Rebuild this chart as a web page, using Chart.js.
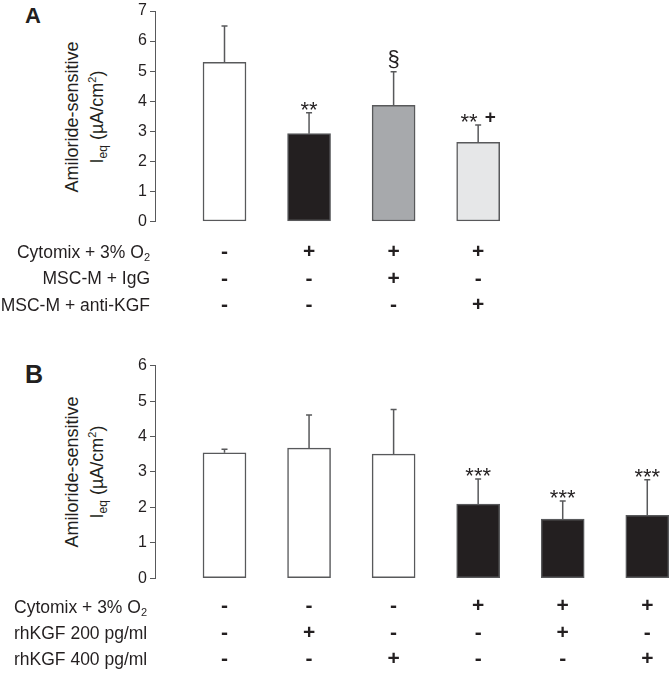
<!DOCTYPE html>
<html>
<head>
<meta charset="utf-8">
<script src="https://cdn.jsdelivr.net/npm/chart.js@4"></script>
<style>
    body { margin: 0; background: #fff; overflow: hidden; }
    #page { position: relative; width: 669px; height: 673px; overflow: hidden; font-family: "Liberation Sans", Arial, sans-serif; color: #231f20; }
    canvas { position: absolute; left: 0; }
    .lbl { position: absolute; font-size: 17.5px; line-height: 20px; white-space: nowrap; }
    .lbl sub { font-size: 11px; vertical-align: -3px; line-height: 0; }
    .ytitle { position: absolute; width: 240px; height: 50px; text-align: center; font-size: 18px; line-height: 25px; transform: rotate(-90deg); white-space: nowrap; }
    .ytitle sub { font-size: 12px; vertical-align: -4px; line-height: 0; }
    .ytitle sup { font-size: 11px; vertical-align: 7px; line-height: 0; }
    .panel { position: absolute; font-weight: bold; }
</style>
</head>
<body>
<div id="page">
    <div class="panel" style="left:25px; top:3px; font-size:22px;">A</div>
    <div class="ytitle" style="left:-35.5px; top:92px;">Amiloride-sensitive<br>I<sub>eq</sub> (µA/cm<sup>2</sup>)</div>
    <canvas id="chartA" width="669" height="336" style="top:0px;"></canvas>
    <div id="rowsA"></div>

    <div class="panel" style="left:25px; top:360px; font-size:25px;">B</div>
    <div class="ytitle" style="left:-35.5px; top:447px;">Amiloride-sensitive<br>I<sub>eq</sub> (µA/cm<sup>2</sup>)</div>
    <canvas id="chartB" width="669" height="348" style="top:340px;"></canvas>
    <div id="rowsB"></div>
</div>
<script>
// panel A
const rowLabelsA = ["Cytomix + 3% O<sub>2</sub>", "MSC-M + IgG", "MSC-M + anti-KGF"];
const meanA = [5.29, 2.92, 3.86, 2.63];
const errA = [1.21, 0.70, 1.12, 0.58];
const cytomixA = ["-", "+", "+", "+"];
const iggA = ["-", "-", "+", "-"];
const antiKgfA = ["-", "-", "-", "+"];
const marksA = ["", "**", "§", "** +"];
const fillA = ["#ffffff", "#231f20", "#a7a9ac", "#e6e7e8"];

// panel B
const rowLabelsB = ["Cytomix + 3% O<sub>2</sub>", "rhKGF 200 pg/ml", "rhKGF 400 pg/ml"];
const meanB = [3.54, 3.67, 3.50, 2.09, 1.67, 1.77];
const errB = [0.10, 0.94, 1.26, 0.71, 0.51, 1.01];
const cytomixB = ["-", "-", "-", "+", "+", "+"];
const kgf200B = ["-", "+", "-", "-", "+", "-"];
const kgf400B = ["-", "-", "+", "-", "-", "+"];
const marksB = ["", "", "", "***", "***", "***"];
const fillB = ["#ffffff", "#ffffff", "#ffffff", "#231f20", "#231f20", "#231f20"];

const fontFamily = "'Liberation Sans', Arial, sans-serif";
const ink = "#231f20";
const edge = "#58595b";

function markFont(t) {
    if (t[0] === "*") return "22px " + fontFamily;
    if (t === "§") return "22px " + fontFamily;
    return "bold 19px " + fontFamily;
}

const errorBars = {
    id: "errorBars",
    afterDatasetsDraw(chart, args, opts) {
        const ctx = chart.ctx;
        const yScale = chart.scales.y;
        const bars = chart.getDatasetMeta(0).data;
        const data = chart.data.datasets[0].data;
        ctx.save();
        bars.forEach((bar, i) => {
            const top = yScale.getPixelForValue(data[i].y + opts.err[i]);
            ctx.strokeStyle = edge;
            ctx.lineWidth = 1.5;
            ctx.beginPath();
            ctx.moveTo(bar.x, bar.y);
            ctx.lineTo(bar.x, top);
            ctx.moveTo(bar.x - 3, top);
            ctx.lineTo(bar.x + 3, top);
            ctx.stroke();

            const tokens = opts.marks[i].split(" ").filter(Boolean);
            if (!tokens.length) return;
            const gap = 7;
            const widths = tokens.map(t => {
                ctx.font = markFont(t);
                return ctx.measureText(t).width;
            });
            const total = widths.reduce((a, b) => a + b, 0) + gap * (tokens.length - 1);
            let x = bar.x - total / 2;
            ctx.fillStyle = ink;
            ctx.textAlign = "left";
            ctx.textBaseline = "alphabetic";
            tokens.forEach((t, k) => {
                ctx.font = markFont(t);
                const m = ctx.measureText(t);
                ctx.fillText(t, x, top - 3 - m.actualBoundingBoxDescent);
                x += widths[k] + gap;
            });
        });
        ctx.restore();
    }
};

function makeChart(id, mean, err, marks, fills, rows, yMax, padTop, tickPad) {
    return new Chart(document.getElementById(id), {
        type: "bar",
        data: {
            datasets: [{
                data: mean.map((v, i) => ({ x: i + 1, y: v })),
                backgroundColor: fills,
                borderColor: edge,
                borderWidth: 1.5,
                borderSkipped: false,
                barThickness: 43,
            }],
        },
        options: {
            responsive: false,
            animation: false,
            events: [],
            layout: { padding: { top: padTop, left: 0, right: 0, bottom: 0 } },
            plugins: {
                legend: { display: false },
                tooltip: { enabled: false },
                errorBars: { err: err, marks: marks },
            },
            scales: {
                x: {
                    type: "linear",
                    min: 0.178,
                    max: 6.257,
                    offset: false,
                    grid: { display: false, drawTicks: false, offset: false },
                    border: { display: false },
                    afterBuildTicks: (scale) => {
                        scale.ticks = mean.map((v, i) => ({ value: i + 1 }));
                    },
                    ticks: {
                        autoSkip: false,
                        maxRotation: 0,
                        padding: tickPad,
                        color: ink,
                        font: { family: fontFamily, size: 21, weight: "bold", lineHeight: "26.5px" },
                        callback: (v) => {
                            const i = Math.round(v) - 1;
                            return rows.map(r => r[i]);
                        },
                    },
                },
                y: {
                    min: 0,
                    max: yMax,
                    afterFit: (scale) => { scale.width = 155; },
                    grid: { drawOnChartArea: false, tickLength: 5, color: edge, lineWidth: 1 },
                    border: { color: edge, width: 1 },
                    ticks: {
                        stepSize: 1,
                        padding: 3,
                        color: ink,
                        font: { family: fontFamily, size: 16, lineHeight: 1 },
                    },
                },
            },
        },
        plugins: [errorBars],
    });
}

function placeRows(el, labels, ys, align) {
    labels.forEach((t, i) => {
        const d = document.createElement("div");
        d.className = "lbl";
        d.innerHTML = t;
        d.style.top = (ys[i] - 10) + "px";
        if (align === "right") d.style.right = (669 - 150) + "px";
        else d.style.left = "14px";
        document.getElementById(el).appendChild(d);
    });
}

makeChart("chartA", meanA, errA, marksA, fillA, [cytomixA, iggA, antiKgfA], 7, 7.5, 17.5);
makeChart("chartB", meanB, errB, marksB, fillB, [cytomixB, kgf200B, kgf400B], 6, 25.7, 15.2);
placeRows("rowsA", rowLabelsA, [251.7, 277.7, 305], "right");
placeRows("rowsB", rowLabelsB, [606.7, 632.7, 659.3], "left");
</script>
</body>
</html>
